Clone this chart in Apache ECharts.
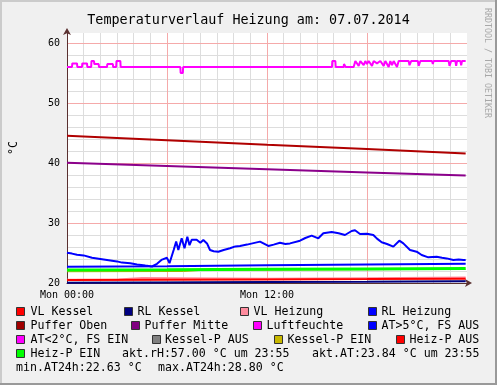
<!DOCTYPE html>
<html><head><meta charset="utf-8">
<script src="https://cdn.jsdelivr.net/npm/echarts@6/dist/echarts.min.js"></script>
<style>html,body{margin:0;padding:0;background:#F0F0F0}#c{width:497px;height:385px}</style>
</head><body><div id="c"></div>
<script>
const FONT = 'DejaVu Sans Mono';
const titleText = 'Temperaturverlauf Heizung am: 07.07.2014';
const xLabelMap = {0: 'Mon 00:00', 12: 'Mon 12:00'};
const yLabelValues = [20, 30, 40, 50, 60];

// [hour, value]
const luftfeuchte = [[0,56],[0.3,56],[0.32,56.6],[0.6,56.6],[0.62,56],[0.9,56],[0.92,56.6],[1.2,56.6],[1.22,56],[1.45,56],[1.47,57],[1.62,57],[1.64,56.5],[1.9,56.5],[1.92,56],[2.4,56],[2.42,56.5],[2.75,56.5],[2.77,56],[2.95,56],[2.97,57],[3.2,57],[3.22,56],[6.8,56],[6.82,55],[6.95,55],[6.97,56],[15.9,56],[15.92,57],[16.1,57],[16.12,56],[16.6,56],[16.62,56.5],[16.7,56.5],[16.72,56],[17.2,56],[17.3,57],[17.5,56.2],[17.6,57],[17.8,56.3],[17.9,57],[18.0,56.5],[18.1,57],[18.3,56.2],[18.4,57],[18.6,56.6],[18.8,57],[19.0,56.2],[19.1,57],[19.3,56],[19.4,57],[19.5,56.3],[19.6,57],[19.8,56],[19.9,57],[20.5,57],[20.55,56.3],[20.65,57],[21.05,57],[21.1,56.2],[21.2,57],[21.9,57],[21.95,56.5],[22.0,57],[22.9,57],[22.95,56.2],[23.05,57],[23.3,57],[23.35,56.2],[23.4,57],[23.6,57],[23.65,56.3],[23.7,57],[23.92,57]];
const pufferOben = [[0,44.55],[6,43.8],[12,43.05],[18,42.35],[23.92,41.6]];
const pufferMitte = [[0,40.05],[6,39.5],[12,38.95],[18,38.42],[23.92,37.9]];
const aussenTemp = [[0,25.05],[0.3,24.9],[0.6,24.7],[1.0,24.6],[1.5,24.2],[2.0,24.0],[2.5,23.8],[3.0,23.6],[3.3,23.4],[3.8,23.3],[4.2,23.1],[4.7,22.9],[5.1,22.75],[5.2,22.63],[5.4,23.2],[5.7,23.9],[6.0,24.2],[6.15,23.3],[6.4,25.5],[6.55,26.9],[6.68,25.5],[6.88,27.45],[7.05,25.8],[7.22,27.7],[7.35,26.3],[7.48,27.2],[7.6,26.9],[7.78,27.2],[8.0,26.7],[8.18,27.17],[8.4,26.6],[8.58,25.5],[8.8,25.3],[9.08,25.2],[9.4,25.5],[9.78,25.8],[10.1,26.1],[10.38,26.17],[10.8,26.4],[11.58,26.9],[12.08,26.17],[12.4,26.4],[12.78,26.7],[13.1,26.5],[13.38,26.6],[13.98,27.05],[14.3,27.5],[14.68,27.9],[15.08,27.45],[15.38,28.28],[15.88,28.5],[16.3,28.3],[16.68,28.0],[17.08,28.67],[17.28,28.8],[17.58,28.17],[18.0,28.2],[18.38,28.0],[18.6,27.4],[18.88,26.78],[19.2,26.5],[19.58,26.06],[19.94,27.05],[20.18,26.6],[20.58,25.5],[20.98,25.22],[21.28,24.67],[21.68,24.28],[22.18,24.39],[22.5,24.2],[22.78,24.1],[23.18,23.83],[23.5,23.9],[23.78,23.83],[23.92,23.84]];
const rlHeizung = [[0,22.72],[6,22.8],[12,22.95],[18,23.1],[23.92,23.2]];
const kesselPEin = [[0,21.88],[7,21.92],[8,22.1],[23.92,22.3]];
const heizPEin = [[0,22.15],[6,22.2],[12,22.3],[18,22.35],[23.92,22.4]];
const vlHeizung = [[0,20.55],[3.1,20.6],[3.2,20.85],[4.5,20.85],[4.6,20.65],[12,20.7],[18,20.8],[23.92,20.9]];
const vlKessel = [[0,20.5],[6,20.55],[12,20.6],[18,20.65],[23.92,20.72]];
const kesselPAus = [[0,20.1],[12,20.2],[23.92,20.32]];
const rlKessel = [[0,20.05],[6,20.1],[12,20.15],[18,20.2],[23.92,20.28]];

const legendRows = [
  [['VL Kessel','#FF0000'],['RL Kessel','#000080'],['VL Heizung','#FF8C9E'],['RL Heizung','#0000FF']],
  [['Puffer Oben','#A00000'],['Puffer Mitte','#800080'],['Luftfeuchte','#FF00FF'],['AT>5°C, FS AUS','#0000FF']],
  [['AT<2°C, FS EIN','#FF00FF'],['Kessel-P AUS','#808080'],['Kessel-P EIN','#C8B800'],['Heiz-P AUS','#FF0000']],
  [['Heiz-P EIN','#00FF00']]
];
const infoTexts = [['akt.rH:57.00 °C um 23:55','akt.AT:23.84 °C um 23:55'],['min.AT24h:22.63 °C','max.AT24h:28.80 °C']];

// layout (positions)
const rowY = [311.5, 325.5, 339.5, 353.5, 367.5];
const textX = [[30.5,137.5,253.5,381.5],[30.5,144.5,266.5,381.5],[30.5,165,287.5,409.5],[30.5]];
const infoX = [[122,312],[16,158]];
const infoRow = [3,4];

const MAJ = '#F5AAAA', MIN = '#DDDDDD';

const graphics = [
  {type:'rect', shape:{x:0,y:0,width:497,height:2}, style:{fill:'#CBCBCB'}, silent:true},
  {type:'rect', shape:{x:0,y:0,width:2,height:385}, style:{fill:'#CBCBCB'}, silent:true},
  {type:'rect', shape:{x:495,y:0,width:2,height:385}, style:{fill:'#999999'}, silent:true},
  {type:'rect', shape:{x:0,y:383,width:497,height:2}, style:{fill:'#999999'}, silent:true},
  {type:'text', x:487, y:8, rotation:-Math.PI/2, style:{text:'RRDTOOL / TOBI OETIKER', font:'8.3px '+FONT, fill:'#A8A8A8', textAlign:'left', textVerticalAlign:'middle'}},
  {type:'text', x:14, y:148, rotation:Math.PI/2, style:{text:'°C', font:'11.6px '+FONT, fill:'#000', textAlign:'center', textVerticalAlign:'middle'}}
];
legendRows.forEach((row, r) => {
  row.forEach((item, i) => {
    const bx = textX[r][i] - (i === 0 ? 14.5 : 13.5);
    graphics.push({type:'rect', shape:{x:Math.round(bx)+0.5, y:rowY[r]-4, width:8, height:8}, style:{fill:item[1], stroke:'#333', lineWidth:1}});
    graphics.push({type:'text', x:textX[r][i], y:rowY[r], style:{text:item[0], font:'11.6px '+FONT, fill:'#000', textAlign:'left', textVerticalAlign:'middle'}});
  });
});
infoTexts.forEach((row, r) => {
  row.forEach((t, i) => {
    graphics.push({type:'text', x:infoX[r][i], y:rowY[infoRow[r]], style:{text:t, font:'11.6px '+FONT, fill:'#000', textAlign:'left', textVerticalAlign:'middle'}});
  });
});

function line(name, data, color, width, z) {
  return {name, type:'line', data, showSymbol:false, symbol:'none', lineStyle:{color, width}, itemStyle:{color}, z: z||2, animation:false, clip:true};
}

const axisLineStyle = {show:true, lineStyle:{color:'#5A3030', width:1}, symbol:['none','arrow'], symbolSize:[6,7], symbolOffset:[0,5]};
const chart = echarts.init(document.getElementById('c'), null, {renderer:'canvas'});
chart.setOption({
  backgroundColor:'#F0F0F0',
  animation:false,
  title:{text:titleText, left:'center', top:9, textStyle:{fontFamily:FONT, fontSize:13.4, fontWeight:'normal', color:'#000'}},
  grid:{left:67, right:30, top:33, bottom:102, show:true, backgroundColor:'#FFFFFF', borderWidth:0},
  xAxis:[
    {type:'value', min:0, max:24, interval:1, z:0,
      axisLine:{show:false}, axisTick:{show:false}, axisLabel:{show:false},
      splitLine:{show:true, showMaxLine:false, lineStyle:{color:MIN, width:1}}},
    {type:'value', min:0, max:24, interval:6, position:'bottom', z:1,
      axisLine:axisLineStyle, axisTick:{show:false},
      axisLabel:{margin:7, fontFamily:FONT, fontSize:10, color:'#000', showMaxLabel:false, formatter:v => xLabelMap[v] || ''},
      splitLine:{show:true, showMaxLine:false, lineStyle:{color:MAJ, width:1}}}
  ],
  yAxis:[
    {type:'value', min:20, max:61.67, interval:2, z:0,
      axisLine:{show:false}, axisTick:{show:false}, axisLabel:{show:false},
      splitLine:{show:true, showMaxLine:false, lineStyle:{color:MIN, width:1}}},
    {type:'value', min:20, max:61.67, interval:10, position:'left', z:1,
      axisLine:axisLineStyle, axisTick:{show:false},
      axisLabel:{margin:7, fontFamily:FONT, fontSize:10, color:'#000', showMaxLabel:false, formatter:v => yLabelValues.indexOf(v) >= 0 ? String(v) : ''},
      splitLine:{show:true, showMaxLine:false, lineStyle:{color:MAJ, width:1}}}
  ],
  graphic: graphics,
  series:[
    line('Kessel-P AUS', kesselPAus, '#808080', 1, 2),
    line('RL Kessel', rlKessel, '#000080', 2, 3),
    line('VL Heizung', vlHeizung, '#FF8C9E', 2, 3),
    line('VL Kessel', vlKessel, '#FF0000', 2, 4),
    line('Kessel-P EIN', kesselPEin, '#B8A800', 1, 3),
    line('Heiz-P EIN', heizPEin, '#00FF00', 3, 4),
    line('RL Heizung', rlHeizung, '#0000FF', 2, 4),
    line('Puffer Oben', pufferOben, '#B00000', 2, 4),
    line('Puffer Mitte', pufferMitte, '#8B008B', 2, 4),
    line('Luftfeuchte', luftfeuchte, '#FF00FF', 2, 4),
    line('AT>5°C, FS AUS', aussenTemp, '#0000FF', 2, 5)
  ]
});
</script></body></html>
